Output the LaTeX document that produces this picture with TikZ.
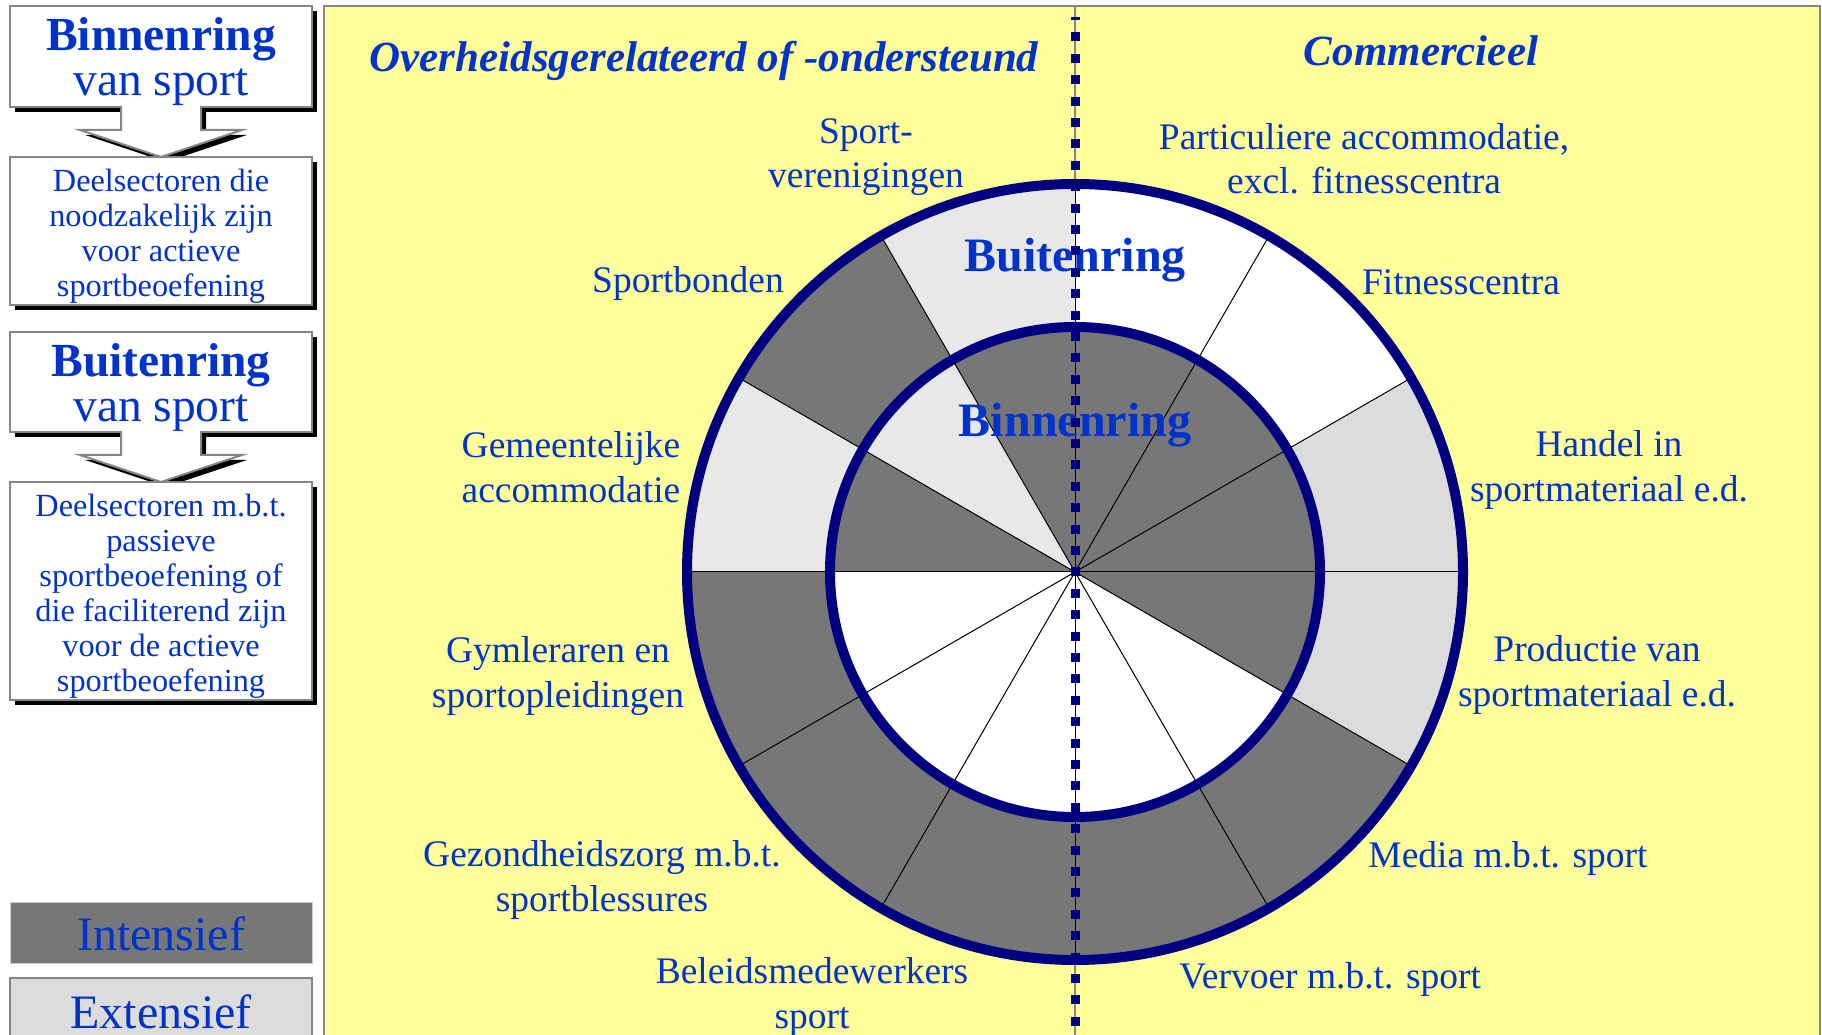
\documentclass[tikz,border=0pt]{standalone}
\usepackage{fontspec}
\setmainfont{Liberation Serif}
\usetikzlibrary{shadows,positioning,calc}

\definecolor{txtblue}{HTML}{0033CC}
\definecolor{ringnavy}{HTML}{000080}
\definecolor{intgray}{HTML}{777777}
\definecolor{extgray}{HTML}{DCDCDC}
\definecolor{extgrayl}{HTML}{E8E8E8}
\definecolor{panelyellow}{HTML}{FFFF99}
\definecolor{bordergray}{HTML}{858585}

\begin{document}
\begin{tikzpicture}[x=1pt, y=1pt,
  boxshadow/.style={drop shadow={shadow xshift=5pt, shadow yshift=-5pt, fill=black, opacity=1}},
  box/.style={draw=bordergray, line width=2pt, fill=white, minimum width=302pt,
    inner sep=0pt, align=center, text=txtblue, boxshadow},
  boxhead/.style={box, font=\fontsize{47.5}{45}\selectfont},
  boxtext/.style={box, font=\fontsize{32.3}{35}\selectfont},
  blockarrow/.style={draw=bordergray, line width=2pt, fill=white, boxshadow},
  legend/.style={minimum width=302pt, inner sep=0pt, text=txtblue,
    font=\fontsize{48}{50}\selectfont},
  sector/.style={text=txtblue, align=center, font=\fontsize{37.5}{44.5}\selectfont},
  ringlabel/.style={text=txtblue, anchor=base, font=\fontsize{48}{50}\selectfont\bfseries},
  sidehead/.style={text=txtblue, font=\fontsize{43}{45}\selectfont\bfseries\itshape},
  ringline/.style={ringnavy, line width=10pt},
  spoke/.style={black, line width=1pt},
  divline/.style={ringnavy, line width=9pt, dash pattern=on 9pt off 12.4pt},
]

  \fill[white] (0,0) rectangle (1822,1035);
  \useasboundingbox (0,0) rectangle (1822,1035);

  %%%%%%%%%%%%%%%%%%%%%%%%%%%%%%%%%%%%%%%%%%%%%%%%%
  % Left column
  \node[boxhead, minimum height=101pt] (binhead) at (161,978.5)
      {\rule{0pt}{44pt}\textbf{Binnenring}\\van sport};
  \begin{scope}[shift={(binhead.south)}]
    \draw[blockarrow] (-40,2) -- (-40,-22) -- (-81,-22) -- (0,-49)
        -- (81,-22) -- (40,-22) -- (40,2);
  \end{scope}
  \node[boxtext, minimum height=148pt, below=48pt of binhead] (binsub)
      {\rule{0pt}{33pt}Deelsectoren die\\noodzakelijk zijn\\voor actieve\\sportbeoefening};

  \node[boxhead, minimum height=100pt] (buithead) at (161,653)
      {\rule{0pt}{44pt}\textbf{Buitenring}\\van sport};
  \begin{scope}[shift={(buithead.south)}]
    \draw[blockarrow] (-40,2) -- (-40,-22) -- (-81,-22) -- (0,-49)
        -- (81,-22) -- (40,-22) -- (40,2);
  \end{scope}
  \node[boxtext, minimum height=218pt, below=48pt of buithead] (buitsub)
      {\rule{0pt}{32pt}Deelsectoren m.b.t.\\passieve\\sportbeoefening of\\die faciliterend zijn\\voor de actieve\\sportbeoefening};

  % Legend
  \node[legend, minimum height=61pt, fill=intgray, draw=black!20, line width=1pt]
      (intens) at (161,101.5) {Intensief};
  \node[legend, minimum height=67pt, fill=extgray, draw=bordergray, line width=2pt]
      (extens) at (161,23.5) {Extensief};

  %%%%%%%%%%%%%%%%%%%%%%%%%%%%%%%%%%%%%%%%%%%%%%%%%
  % Panel
  \draw[bordergray, line width=2pt, fill=panelyellow] (324,1029) rectangle (1820,-10);
  \draw[bordergray, line width=2pt] (1075,1029) -- (1075,-10);

  % Rings
  \coordinate (c) at (1075,463);
  \foreach \a/\outc/\inc in {0/extgray/intgray, 30/white/intgray, 60/white/intgray,
      90/extgrayl/intgray, 120/intgray/extgrayl, 150/extgrayl/intgray,
      180/intgray/white, 210/intgray/white, 240/intgray/white,
      270/intgray/white, 300/intgray/white, 330/extgray/intgray}
  {
    \fill[\outc] (c) -- ++(\a:388) arc[start angle=\a, delta angle=30, radius=388] -- cycle;
    \fill[\inc] (c) -- ++(\a:245) arc[start angle=\a, delta angle=30, radius=245] -- cycle;
  }
  \foreach \a in {0,30,...,330}
    \draw[spoke] (c) -- ++(\a:388);
  \draw[ringline] (c) circle[radius=388];
  \draw[ringline] (c) circle[radius=245];

  \node[ringlabel] (buitlbl) at (1075,763) {Buitenring};
  \node[ringlabel] (binnlbl) at (1075,598) {Binnenring};

  % Dividing line
  \draw[divline] ($(c)+(0,-4.5)$) -- (1075,1018);
  \draw[divline] ($(c)+(0,4.5)$) -- (1075,-10);

  % Headings
  \node[sidehead] (overheid) at (704,974) {Overheidsgerelateerd of -ondersteund};
  \node[sidehead] (commerc) at (1421,984) {Commercieel};

  % Sector labels
  \node[sector] (spv) at (866,878) {Sport-\\verenigingen};
  \node[sector] (part) at (1364,876) {Particuliere accommodatie,\\excl. fitnesscentra};
  \node[sector] (bond) at (688,752) {Sportbonden};
  \node[sector] (fit) at (1461,753) {Fitnesscentra};
  \node[sector] (gem) at (571,568) {Gemeentelijke\\accommodatie};
  \node[sector] (han) at (1609,565) {Handel in\\sportmateriaal e.d.};
  \node[sector] (gym) at (558,359) {Gymleraren en\\sportopleidingen};
  \node[sector] (prod) at (1597,360) {Productie van\\sportmateriaal e.d.};
  \node[sector] (gez) at (602,155) {Gezondheidszorg m.b.t.\\sportblessures};
  \node[sector] (media) at (1508,177) {Media m.b.t. sport};
  \node[sector] (bel) at (812,38) {Beleidsmedewerkers\\sport};
  \node[sector] (verv) at (1330,56) {Vervoer m.b.t. sport};

\end{tikzpicture}
\end{document}
